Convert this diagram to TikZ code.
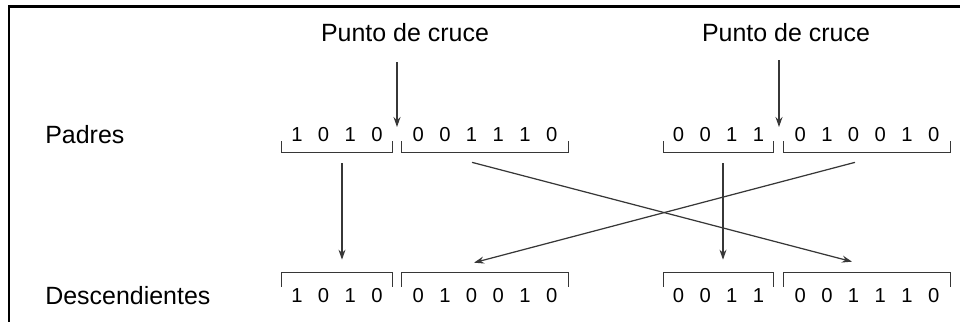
\documentclass[tikz,border=0pt]{standalone}
\usepackage{fontspec}
\setmainfont{Liberation Sans}
\usetikzlibrary{arrows.meta,positioning}
\definecolor{linegray}{RGB}{55,55,55}
\newcommand{\bitsep}{\hspace{0.31cm}}
\tikzset{
    % Label styles
    rowlabel/.style={anchor=west, inner sep=0pt, font=\fontsize{14.2}{17}\selectfont},
    cutlabel/.style={font=\fontsize{14.2}{17}\selectfont},
    % Chromosome segment styles
    padreseg/.style={font=\fontsize{11.5}{13}\selectfont, minimum height=0.68cm, inner xsep=0pt},
    hijoseg/.style={font=\fontsize{11.5}{13}\selectfont, minimum height=0.92cm, inner xsep=0pt},
    seg4/.style={minimum width=2.2cm},
    seg6/.style={minimum width=3.32cm},
    bracket/.style={draw=linegray, line width=0.7pt},
    flow/.style={draw=linegray, line width=0.7pt, -{Stealth[length=2mm,width=1.4mm]}}
}
\begin{document}
\begin{tikzpicture}[x=0.02cm, y=-0.02cm]
\useasboundingbox (0,0) rectangle (960,322);

% Frame (only top and left edges visible)
\draw[line width=1.7pt] (960,6.5) -- (9,6.5) -- (9,322);

% Row labels
\node[rowlabel] (padres) at (45,135) {Padres};
\node[rowlabel] (desc) at (45,296) {Descendientes};

% Parents
\node[padreseg, seg4] (p1a) at (337,135) {1\bitsep 0\bitsep 1\bitsep 0};
\node[padreseg, seg6] (p1b) at (485,135) {0\bitsep 0\bitsep 1\bitsep 1\bitsep 1\bitsep 0};
\node[padreseg, seg4] (p2a) at (718.5,135) {0\bitsep 0\bitsep 1\bitsep 1};
\node[padreseg, seg6] (p2b) at (867,135) {0\bitsep 1\bitsep 0\bitsep 0\bitsep 1\bitsep 0};

% Offspring
\node[hijoseg, seg4] (d1a) at (337,296) {1\bitsep 0\bitsep 1\bitsep 0};
\node[hijoseg, seg6] (d1b) at (485,296) {0\bitsep 1\bitsep 0\bitsep 0\bitsep 1\bitsep 0};
\node[hijoseg, seg4] (d2a) at (718.5,296) {0\bitsep 0\bitsep 1\bitsep 1};
\node[hijoseg, seg6] (d2b) at (867,296) {0\bitsep 0\bitsep 1\bitsep 1\bitsep 1\bitsep 0};

% Brackets
\foreach \s in {p1a,p1b,p2a,p2b}
    \draw[bracket] ([yshift=0.22cm]\s.south west) -- (\s.south west) -- (\s.south east) -- ++(0,0.22cm);
\foreach \s in {d1a,d1b,d2a,d2b}
    \draw[bracket] ([yshift=-0.28cm]\s.north west) -- (\s.north west) -- (\s.north east) -- ++(0,-0.28cm);

% Crossover points
\node[cutlabel] (cut1) at (405,33) {Punto de cruce};
\node[cutlabel] (cut2) at (786,33) {Punto de cruce};
\coordinate (cp1) at (397,127);
\coordinate (cp2) at (779,127);
\draw[flow, shorten <=0.28cm] (cut1.south -| cp1) -- (cp1);
\draw[flow, shorten <=0.24cm] (cut2.south -| cp2) -- (cp2);

% Gene flow to offspring
\draw[flow] ([xshift=0.1cm,yshift=-0.22cm]p1a.south) -- ([xshift=0.1cm,yshift=0.26cm]d1a.north);
\draw[flow] ([xshift=0.09cm,yshift=-0.22cm]p2a.south) -- ([xshift=0.09cm,yshift=0.26cm]d2a.north);
\draw[flow] ([xshift=-0.26cm,yshift=-0.2cm]p1b.south) -- ([xshift=-0.3cm,yshift=0.22cm]d2b.north);
\draw[flow] ([xshift=-0.24cm,yshift=-0.2cm]p2b.south) -- ([xshift=-0.22cm,yshift=0.2cm]d1b.north);

\end{tikzpicture}
\end{document}
